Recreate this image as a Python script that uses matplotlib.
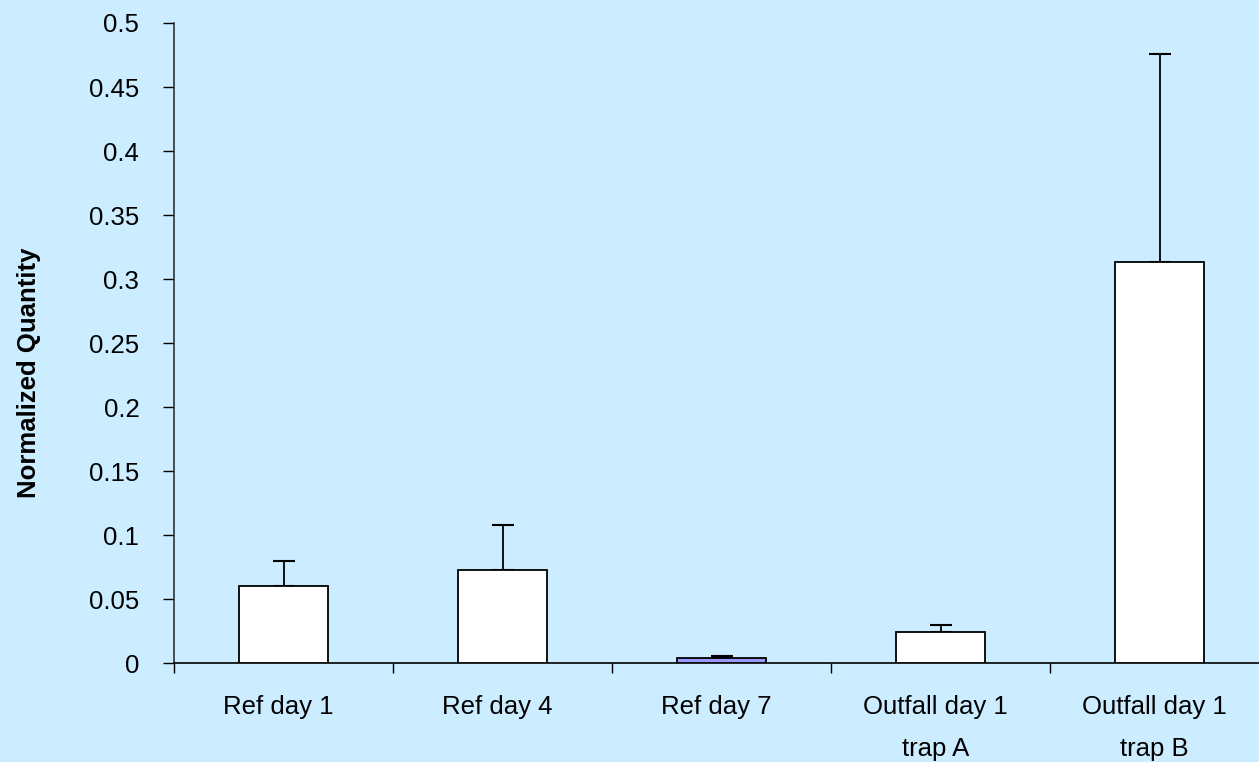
import matplotlib
matplotlib.use("Agg")
import matplotlib.pyplot as plt
import matplotlib.transforms as mtransforms
import numpy as np
from matplotlib.ticker import FixedLocator, NullFormatter

categories = ["Ref day 1", "Ref day 4", "Ref day 7", "Outfall day 1\ntrap A", "Outfall day 1\ntrap B"]
values = [0.060, 0.073, 0.0044, 0.0245, 0.313]
errors = [0.020, 0.035, 0.0016, 0.0057, 0.163]
bar_colors = ["white", "white", "#9999FF", "white", "white"]
yticks = [0, 0.05, 0.1, 0.15, 0.2, 0.25, 0.3, 0.35, 0.4, 0.45, 0.5]
ytick_labels = ["0", "0.05", "0.1", "0.15", "0.2", "0.25", "0.3", "0.35", "0.4", "0.45", "0.5"]

plt.rcParams['font.family'] = ['Liberation Sans', 'DejaVu Sans']
bg = "#CCECFF"
fig = plt.figure(figsize=(12.59, 7.62), dpi=100, facecolor=bg)
ax = fig.add_axes([174/1259, 1-663.3/762, 1-174/1259, (663.3-23)/762])
ax.set_facecolor(bg)

x = np.arange(len(categories))
ax.bar(x, values, width=0.41, color=bar_colors, edgecolor="black", linewidth=1.3, zorder=3)
ax.errorbar(x, values, yerr=[np.zeros(len(values)), errors], fmt="none", ecolor="black",
            elinewidth=1.3, capsize=8, capthick=1.5, zorder=2)

ax.set_xlim(-0.5, (1259-283.5)/219)
ax.set_ylim(0, 0.5)
ax.set_yticks(yticks)
ax.set_yticklabels(ytick_labels, fontsize=18.5)
ax.tick_params(axis='y', direction='out', length=8, width=1, pad=17, color='black')

ax.set_xticks(x)
ax.set_xticklabels(categories, fontsize=18.5, linespacing=1.95, va='top')
ax.tick_params(axis='x', which='major', length=0, pad=23)
ax.xaxis.set_minor_locator(FixedLocator(np.arange(-0.5, len(categories) + 0.5, 1)))
ax.xaxis.set_minor_formatter(NullFormatter())
ax.tick_params(axis='x', which='minor', direction='out', length=7, width=1, color='black')

offset = mtransforms.ScaledTranslation(-5/100, 0, fig.dpi_scale_trans)
for lbl in ax.get_xticklabels():
    lbl.set_transform(lbl.get_transform() + offset)

for s in ['top', 'right']:
    ax.spines[s].set_visible(False)
ax.spines['left'].set_color('#333333')
ax.spines['left'].set_linewidth(1.2)
ax.spines['bottom'].set_color('black')
ax.spines['bottom'].set_linewidth(1.2)

ax.set_ylabel("Normalized Quantity", fontsize=18.5, fontweight='bold')
ax.yaxis.set_label_coords(-0.1225, 0.4535)

fig.savefig("out.png", dpi=100, facecolor=bg)
